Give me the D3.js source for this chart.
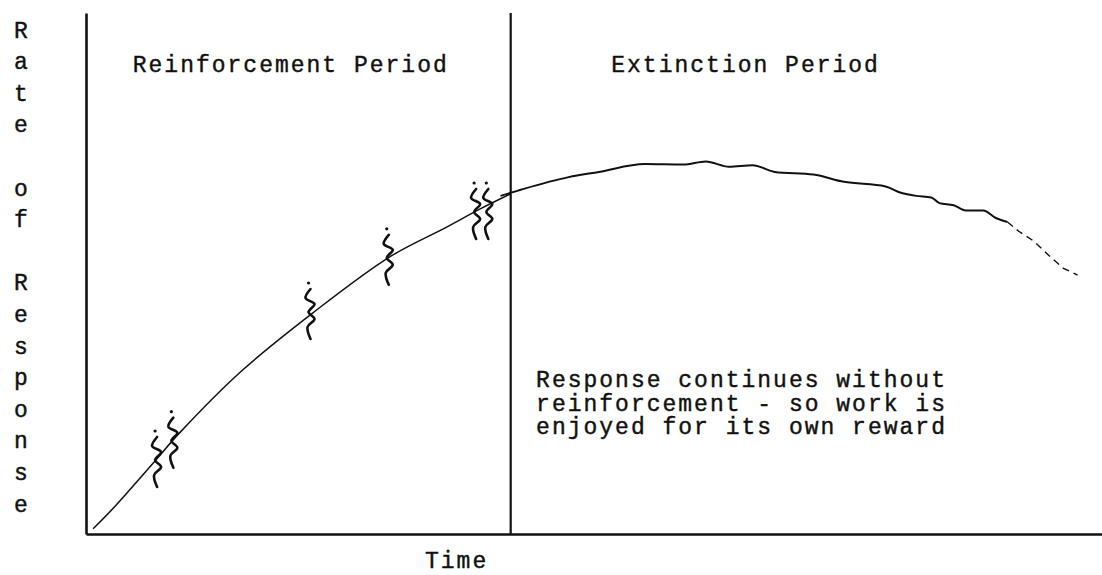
<!DOCTYPE html>
<html>
<head>
<meta charset="utf-8">
<script src="https://cdn.jsdelivr.net/npm/d3@7"></script>
<style>
  html, body { margin: 0; padding: 0; background: #fff; }
  svg { display: block; }
  text { font-family: "Liberation Mono", "Courier New", monospace; font-size: 23px; letter-spacing: 2px; fill: #111; stroke: #111; stroke-width: 0.4px; }
</style>
</head>
<body>
<div class="chart"></div>
<script>
// values (time and rate on a 0..100 scale)
const reinfTime = [0.7, 2.7, 6.6, 9.3, 15.2, 22.3, 29.9, 35.5, 38.8, 41.8];
const reinfRate = [1.0, 5.0, 13.6, 19.6, 31.1, 42.4, 53.2, 58.9, 62.4, 65.3];

const extTime = [40.8, 43.0, 47.5, 50.5, 55.0, 58.8, 61.0, 63.3, 65.6, 67.8, 71.6, 74.6, 78.7, 80.2, 81.7, 83.2, 84.0, 85.4, 86.6, 88.3, 89.6, 90.7];
const extRate = [64.9, 66.2, 68.5, 69.5, 71.0, 70.9, 71.5, 70.5, 70.8, 69.5, 69.0, 67.6, 66.7, 65.5, 64.9, 64.6, 63.5, 63.1, 62.1, 62.1, 60.6, 59.9];

// broken tail at the end of the extinction curve
const tailTime = [90.7, 91.8, 93.3, 94.8, 96.2, 97.6];
const tailRate = [59.9, 58.1, 56.2, 53.4, 51.0, 49.7];

// where the reinforcements (squiggles) sit
const markTime = [6.9, 8.5, 22.0, 29.7, 38.3, 39.5];
const markRate = [14.4, 18.1, 42.8, 53.2, 62.0, 62.0];

const periodBoundary = 41.8;
const periodLabels = ['Reinforcement Period', 'Extinction Period'];
const periodLabelTime = [4.6, 51.7];
const yLabelRows = ['R', 'a', 't', 'e', '', 'o', 'f', '', 'R', 'e', 's', 'p', 'o', 'n', 's', 'e'];
const noteLines = ['Response continues without', 'reinforcement - so work is', 'enjoyed for its own reward'];
const xTitle = 'Time';

const width = 1102;
const height = 575;
const margin = { top: 13, right: 0, bottom: 41, left: 86 };

const svg = d3.select('.chart').append('svg')
  .attr('width', width)
  .attr('height', height);

const x = d3.scaleLinear().domain([0, 100]).range([margin.left, width - margin.right]);
const y = d3.scaleLinear().domain([0, 100]).range([height - margin.bottom, margin.top]);

// axes: plain lines, no ticks
svg.append('g')
  .attr('transform', 'translate(0,' + y(0) + ')')
  .call(d3.axisBottom(x).tickValues([]).tickSizeOuter(0))
  .select('.domain').attr('stroke', '#111').attr('stroke-width', 2.6);

svg.append('g')
  .attr('transform', 'translate(' + x(0) + ',0)')
  .call(d3.axisLeft(y).tickValues([]).tickSizeOuter(0))
  .select('.domain').attr('stroke', '#111').attr('stroke-width', 2.6);

// divider between the two periods
svg.append('line')
  .attr('x1', x(periodBoundary)).attr('x2', x(periodBoundary))
  .attr('y1', y(0)).attr('y2', y(100))
  .attr('stroke', '#111').attr('stroke-width', 2.2);

const line = d3.line()
  .x(d => x(d[0]))
  .y(d => y(d[1]));

svg.append('path')
  .datum(d3.zip(reinfTime, reinfRate))
  .attr('fill', 'none').attr('stroke', '#111').attr('stroke-width', 1.5)
  .attr('d', line.curve(d3.curveCatmullRom));

svg.append('path')
  .datum(d3.zip(extTime, extRate))
  .attr('fill', 'none').attr('stroke', '#111').attr('stroke-width', 2)
  .attr('d', line.curve(d3.curveMonotoneX));

svg.append('path')
  .datum(d3.zip(tailTime, tailRate))
  .attr('fill', 'none').attr('stroke', '#111').attr('stroke-width', 1.4)
  .attr('stroke-dasharray', '7,5')
  .attr('d', line.curve(d3.curveLinear));

// squiggle glyph for a reinforcement
const squiggle = d3.line().curve(d3.curveCatmullRom)([
  [1, -22], [-4, -13], [5, -7], [-1, 1], [5, 8], [-2, 16], [1, 28]
]);
const marks = svg.append('g').selectAll('g')
  .data(d3.zip(markTime, markRate))
  .join('g')
  .attr('transform', d => 'translate(' + x(d[0]) + ',' + y(d[1]) + ')');
marks.append('path')
  .attr('d', squiggle)
  .attr('fill', 'none').attr('stroke', '#111').attr('stroke-width', 2.6)
  .attr('stroke-linecap', 'round');
marks.append('circle')
  .attr('cx', -1).attr('cy', -28).attr('r', 1.6)
  .attr('fill', '#111');

// period titles
svg.append('g').selectAll('text')
  .data(periodLabels)
  .join('text')
  .attr('x', (d, i) => x(periodLabelTime[i]))
  .attr('y', 72)
  .text(d => d);

// vertical y label, one letter per row
svg.append('g').selectAll('text')
  .data(yLabelRows)
  .join('text')
  .attr('x', 21)
  .attr('y', (d, i) => 37.5 + i * 31.6)
  .attr('text-anchor', 'middle')
  .style('letter-spacing', '0px')
  .text(d => d);

// note in the extinction period
svg.append('g').selectAll('text')
  .data(noteLines)
  .join('text')
  .attr('x', x(44.3))
  .attr('y', (d, i) => 387 + i * 23.5)
  .text(d => d);

svg.append('text')
  .attr('x', 425)
  .attr('y', 568)
  .text(xTitle);
</script>
</body>
</html>
